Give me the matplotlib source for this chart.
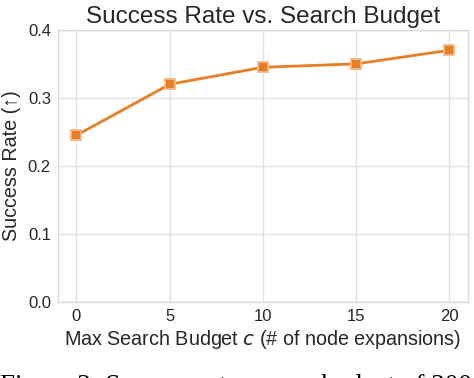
import numpy as np
import matplotlib
matplotlib.use("Agg")
import matplotlib.pyplot as plt
import seaborn as sns

# data
budgets = [0, 5, 10, 15, 20]
success_rate = [0.245, 0.32, 0.345, 0.35, 0.37]
x_ticks = [0, 5, 10, 15, 20]
y_ticks = [0.0, 0.1, 0.2, 0.3, 0.4]

sns.set_style("whitegrid")
plt.rcParams['font.family'] = ['Liberation Sans', 'DejaVu Sans']
text_color = "#262626"

fig = plt.figure(figsize=(4.74, 3.78), dpi=100)
ax = fig.add_axes([0.122, 0.201, 0.865, 0.72])

ax.plot(budgets, success_rate, color="#e87e24", lw=2.0, marker="s",
        markersize=7.5, markerfacecolor="#e87e24",
        markeredgecolor="#f6b98a", markeredgewidth=1.3)

ax.set_xlim(-1, 21)
ax.set_ylim(0, 0.4)
ax.set_xticks(x_ticks)
ax.set_yticks(y_ticks)
ax.set_yticklabels(["%.1f" % v for v in y_ticks])
ax.tick_params(labelsize=12, colors=text_color, length=0, pad=5)
ax.grid(color="#e3e3e3", lw=1.0)
for sp in ax.spines.values():
    sp.set_color("#d9d9d9")
    sp.set_linewidth(1.0)

ax.set_title("Success Rate vs. Search Budget", fontsize=17.5, color=text_color, pad=5)
ax.set_xlabel("Max Search Budget $\\mathit{c}$ (# of node expansions)",
              fontsize=14.2, color=text_color, labelpad=3)
ax.set_ylabel("Success Rate (\u2191)", fontsize=14.2, color=text_color, labelpad=5)

# cut off caption from the page underneath
fig.text(0.0, -0.04, "Figure 2: Success rate versus budget of 200",
         family=["Liberation Serif", "DejaVu Serif"], fontsize=19.5,
         color="black", ha="left", va="baseline")

fig.savefig("out.png", dpi=100)
